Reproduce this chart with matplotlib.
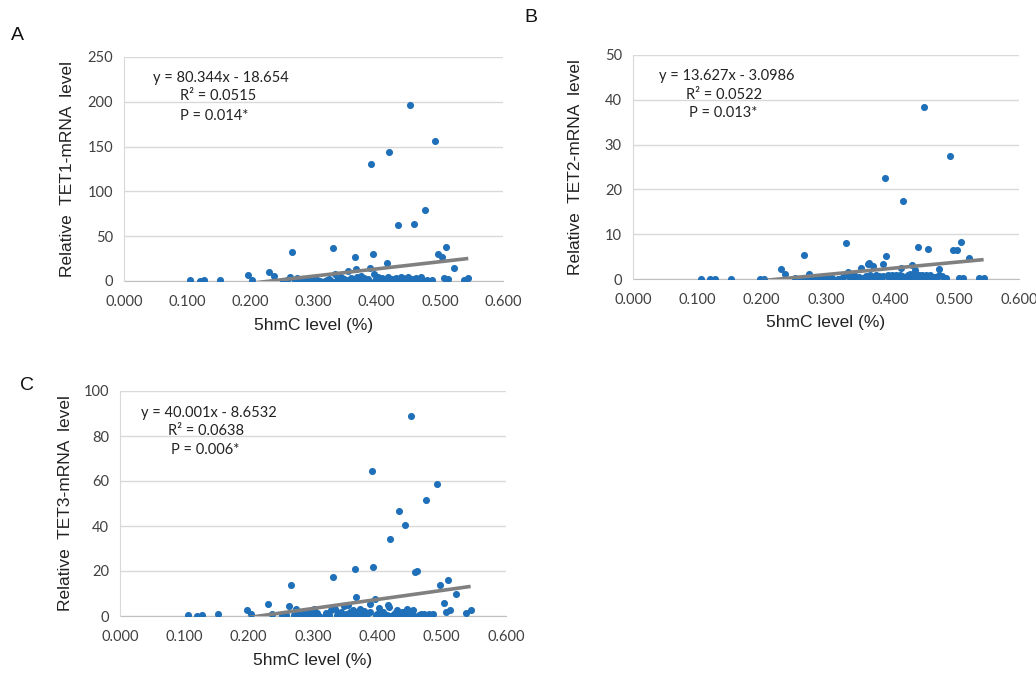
import numpy as np
import matplotlib
matplotlib.use('Agg')
import matplotlib.pyplot as plt

# 5hmC level (as fraction shown on x axis) for each sample, shared by all panels
hmc = [0.105, 0.120, 0.127, 0.152, 0.197, 0.203, 0.230, 0.237, 0.252, 0.258,
       0.263, 0.266, 0.270, 0.274, 0.278, 0.282, 0.286, 0.290, 0.294, 0.298,
       0.302, 0.306, 0.318, 0.322, 0.325, 0.328, 0.331, 0.334, 0.337, 0.340,
       0.344, 0.348, 0.351, 0.354, 0.357, 0.360, 0.362, 0.365, 0.367, 0.369,
       0.371, 0.373, 0.375, 0.378, 0.380, 0.383, 0.386, 0.389, 0.391, 0.394,
       0.396, 0.399, 0.402, 0.405, 0.409, 0.412, 0.416, 0.418, 0.420, 0.424,
       0.427, 0.430, 0.433, 0.436, 0.439, 0.443, 0.446, 0.449, 0.453, 0.456,
       0.459, 0.462, 0.466, 0.470, 0.473, 0.476, 0.480, 0.487, 0.493, 0.497,
       0.504, 0.506, 0.510, 0.513, 0.523, 0.538, 0.545,
       0.284, 0.296, 0.310, 0.320, 0.345, 0.358, 0.363, 0.370, 0.377, 0.382,
       0.388, 0.398, 0.407, 0.415, 0.422, 0.428, 0.438, 0.441, 0.445, 0.451,
       0.455, 0.464, 0.468, 0.475]

tet1 = [1.0, 0.2, 0.8, 0.8, 7.0, 1.5, 9.6, 6.0, 0.3, 1.5,
        5.0, 32.0, 1.0, 3.5, 0.5, 2.0, 0.8, 1.2, 0.4, 2.5,
        1.0, 0.6, 0.2, 1.0, 2.0, 0.5, 37.0, 8.0, 1.5, 0.3,
        4.0, 2.5, 1.0, 11.0, 0.5, 3.0, 1.8, 27.0, 13.0, 4.5,
        0.8, 2.0, 6.0, 1.0, 3.0, 0.4, 2.2, 15.0, 131.0, 30.0,
        8.0, 2.0, 5.0, 1.0, 3.0, 0.5, 20.0, 4.0, 143.6, 2.0,
        0.5, 3.5, 62.6, 1.0, 4.0, 2.5, 0.5, 5.0, 196.0, 2.0,
        63.6, 3.0, 1.0, 5.0, 0.5, 79.6, 1.0, 1.0, 156.0, 30.0,
        27.0, 3.0, 38.0, 2.0, 15.0, 1.0, 3.5,
        0.2, 0.1, 0.5, 0.0, 0.2, 0.3, 0.1, 1.5, 0.2, 1.2,
        0.5, 0.3, 1.5, 0.2, 1.0, 0.3, 0.5, 3.0, 1.0, 0.3,
        1.5, 0.2, 2.0, 0.3]

tet2 = [0.0, 0.0, 0.0, 0.0, 0.1, 0.1, 2.2, 1.2, 0.3, 0.1,
        0.0, 5.4, 0.3, 1.2, 0.2, 0.0, 0.1, 0.3, 0.0, 0.2,
        0.4, 0.1, 0.0, 0.1, 0.3, 0.6, 8.1, 1.5, 0.2, 0.4,
        0.8, 0.3, 0.5, 2.5, 0.1, 0.3, 0.6, 3.3, 3.5, 1.0,
        0.2, 2.8, 0.5, 0.9, 0.3, 0.7, 0.1, 3.3, 22.5, 5.2,
        1.0, 0.4, 0.8, 0.3, 1.0, 0.2, 2.5, 0.6, 17.3, 0.5,
        0.8, 1.2, 3.2, 0.3, 2.0, 7.2, 0.5, 1.0, 38.5, 0.8,
        6.6, 1.0, 0.3, 0.5, 0.4, 2.2, 0.6, 0.3, 27.5, 6.4,
        6.5, 0.3, 8.2, 0.2, 4.7, 0.2, 0.2,
        0.1, 0.0, 0.2, 0.0, 0.1, 0.2, 0.1, 0.4, 0.3, 0.1,
        0.6, 0.2, 0.5, 0.9, 0.2, 0.3, 0.8, 0.2, 1.0, 0.5,
        0.3, 0.5, 0.2, 0.8]

tet3 = [0.5, 0.0, 0.3, 0.8, 2.5, 1.0, 5.2, 0.8, 0.5, 0.3,
        4.6, 14.0, 0.4, 3.0, 1.0, 0.2, 1.5, 0.3, 2.0, 0.6,
        3.0, 1.2, 0.0, 1.0, 0.5, 2.5, 17.3, 3.0, 0.4, 1.2,
        2.0, 4.5, 0.8, 5.0, 1.8, 0.3, 2.8, 21.0, 8.5, 2.0,
        0.5, 3.0, 1.2, 0.2, 2.2, 0.8, 1.5, 5.5, 64.3, 22.0,
        7.5, 1.0, 3.5, 0.5, 2.0, 0.2, 5.0, 4.0, 34.4, 0.5,
        1.5, 2.5, 46.7, 0.3, 1.8, 40.6, 3.0, 0.8, 89.0, 2.5,
        19.5, 20.0, 0.3, 0.5, 1.0, 51.7, 0.8, 0.8, 58.5, 14.0,
        6.0, 2.0, 16.0, 2.5, 9.6, 1.5, 2.5,
        0.0, 0.5, 0.2, 1.5, 0.3, 0.6, 0.1, 1.0, 0.4, 0.2,
        2.0, 0.3, 1.0, 0.6, 0.2, 0.5, 0.2, 2.0, 0.5, 1.2,
        0.4, 0.5, 1.0, 0.2]

x_ticks = [0.0, 0.1, 0.2, 0.3, 0.4, 0.5, 0.6]

panels = [
    # letter, gene, y values, slope, intercept, r2, p, y max, y step
    ('A', 'TET1', tet1, 80.344, -18.654, '0.0515', '0.014*', 250, 50),
    ('B', 'TET2', tet2, 13.627, -3.0986, '0.0522', '0.013*', 50, 10),
    ('C', 'TET3', tet3, 40.001, -8.6532, '0.0638', '0.006*', 100, 20),
]

W, H = 1036, 676
# axes boxes in pixels: left, top, right, bottom
boxes = [(124, 57, 503, 281), (633, 55, 1019, 279), (120, 391, 506, 616)]
# text positions in axes fraction: eq, r2, p
text_pos = [((0.077, 0.906), (0.148, 0.826), (0.148, 0.737)),
            ((0.067, 0.906), (0.137, 0.821), (0.145, 0.741)),
            ((0.054, 0.902), (0.124, 0.822), (0.132, 0.738))]
letter_pos = [(17, 35), (531, 18), (27, 385)]
ylab_x = [68, 576, 66]
xlab_y = [325, 323, 660]

tick_font = 'Lato'
label_font = 'Liberation Sans'

fig = plt.figure(figsize=(W / 100, H / 100), dpi=100)

for i, (letter, gene, yv, a, b, r2, p, ymax, ystep) in enumerate(panels):
    l, t, r, bt = boxes[i]
    ax = fig.add_axes([l / W, 1 - bt / H, (r - l) / W, (bt - t) / H])
    ax.scatter(hmc, yv, s=26, color='#1f70b8', zorder=3, linewidths=0)

    xs = np.array([min(hmc), max(hmc)])
    ax.plot(xs, a * xs + b, color='#808080', lw=2.6, zorder=4,
            solid_capstyle='butt')

    ax.set_xlim(0, 0.6)
    ax.set_ylim(0, ymax)
    ax.set_xticks(x_ticks)
    ax.set_xticklabels(['{:.3f}'.format(v) for v in x_ticks])
    ax.set_yticks(np.arange(0, ymax + 1, ystep))
    ax.tick_params(length=0, labelsize=10.5, colors='#404040')
    ax.tick_params(axis='x', pad=10)
    ax.tick_params(axis='y', pad=8)
    for lab in ax.get_xticklabels() + ax.get_yticklabels():
        lab.set_fontfamily(tick_font)

    ax.grid(axis='y', color='#d9d9d9', lw=1)
    ax.set_axisbelow(True)
    for s in ['top', 'right']:
        ax.spines[s].set_visible(False)
    ax.spines['left'].set_color('#d9d9d9')
    ax.spines['bottom'].set_color('#bfbfbf')
    ax.spines['bottom'].set_zorder(2)

    sign = '-' if b < 0 else '+'
    (ex, ey), (rx, ry), (px, py) = text_pos[i]
    ax.text(ex, ey, 'y = {}x {} {}'.format(a, sign, abs(b)), transform=ax.transAxes,
            fontsize=10.5, family=tick_font, va='center', ha='left', color='#222222')
    ax.text(rx, ry, 'R² = ' + r2, transform=ax.transAxes,
            fontsize=10.5, family=tick_font, va='center', ha='left', color='#222222')
    ax.text(px, py, 'P = ' + p, transform=ax.transAxes,
            fontsize=10.5, family=tick_font, va='center', ha='left', color='#222222')

    cy = (t + bt) / 2
    fig.text(ylab_x[i] / W, 1 - cy / H, 'Relative  {}-mRNA  level'.format(gene),
             rotation=90, ha='center', va='center', fontsize=12.5,
             family=label_font, color='#222222')
    fig.text((l + r) / 2 / W, 1 - xlab_y[i] / H, '5hmC level (%)',
             ha='center', va='center', fontsize=12.5, family=label_font,
             color='#222222')
    lx, ly = letter_pos[i]
    fig.text(lx / W, 1 - ly / H, letter, ha='center', va='center',
             fontsize=14, family=label_font, color='#111111')

fig.savefig('out.png', dpi=100)
